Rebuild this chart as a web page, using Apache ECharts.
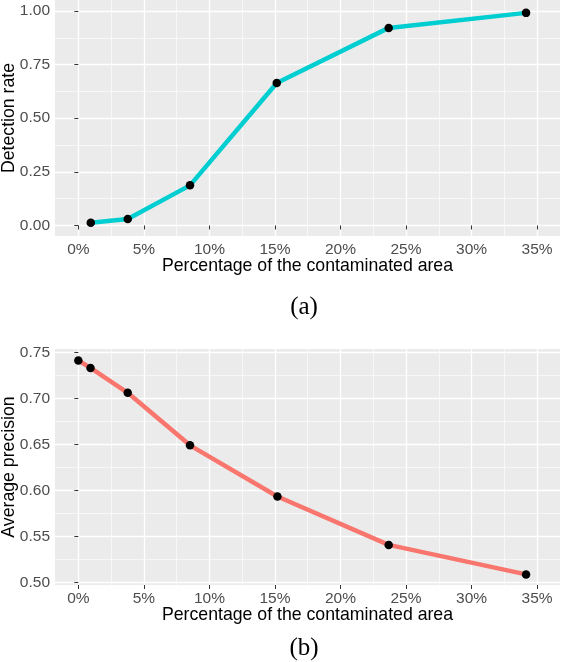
<!DOCTYPE html>
<html><head><meta charset="utf-8">
<script src="https://cdn.jsdelivr.net/npm/echarts@6/dist/echarts.min.js"></script>
<style>html,body{margin:0;padding:0;background:#fff}#c{width:562px;height:662px}</style>
</head><body><div id="c"></div>
<script>
// ---- data ----
const contamA = [0.95, 3.77, 8.52, 15.14, 23.68, 34.16];
const detectionRate = [0.013, 0.030, 0.187, 0.664, 0.921, 0.991];
const contamB = [0, 0.93, 3.77, 8.52, 15.19, 23.68, 34.16];
const avgPrecision = [0.741, 0.733, 0.706, 0.649, 0.5935, 0.541, 0.509];
const xTicks = [0, 5, 10, 15, 20, 25, 30, 35];
const xMinor = [2.5, 7.5, 12.5, 17.5, 22.5, 27.5, 32.5];
const yTicksA = [0, 0.25, 0.5, 0.75, 1];
const yMinorA = [0.125, 0.375, 0.625, 0.875];
const yTicksB = [0.5, 0.55, 0.6, 0.65, 0.7, 0.75];
const yMinorB = [0.525, 0.575, 0.625, 0.675, 0.725];
const xTitle = 'Percentage of the contaminated area';
const yTitleA = 'Detection rate';
const yTitleB = 'Average precision';

const FONT = '"Liberation Sans", Arial, sans-serif';
const tickLabel = { color: '#4D4D4D', fontSize: 15.5, fontFamily: FONT };
const titleStyle = { color: '#000', fontSize: 17.7, fontFamily: FONT };
const X_MIN = -1.78, X_MAX = 36.75;

function majorX(g) {
  return {
    type: 'value', gridIndex: g, min: X_MIN, max: X_MAX, position: 'bottom',
    axisLine: { show: false },
    axisTick: { show: true, length: 4, customValues: xTicks, lineStyle: { color: '#333', width: 1 } },
    axisLabel: Object.assign({ customValues: xTicks, margin: 6, formatter: v => Math.round(v) + '%' }, tickLabel),
    splitLine: { show: true, lineStyle: { color: '#fff', width: 1.3 } },
    name: xTitle, nameLocation: 'middle', nameGap: 21, nameMoveOverlap: false, nameTextStyle: titleStyle
  };
}
function minorX(g) {
  return {
    type: 'value', gridIndex: g, min: X_MIN, max: X_MAX, position: 'top',
    axisLine: { show: false },
    axisTick: { show: false, customValues: xMinor },
    axisLabel: { show: false },
    splitLine: { show: true, lineStyle: { color: '#fff', width: 0.6 } }
  };
}
function majorY(g, min, max, ticks, name) {
  return {
    type: 'value', gridIndex: g, min: min, max: max, position: 'left',
    axisLine: { show: false },
    axisTick: { show: true, length: 4, customValues: ticks, lineStyle: { color: '#333', width: 1 } },
    axisLabel: Object.assign({ customValues: ticks, margin: 5, formatter: v => v.toFixed(2) }, tickLabel),
    splitLine: { show: true, lineStyle: { color: '#fff', width: 1.3 } },
    name: name, nameLocation: 'middle', nameGap: 37, nameMoveOverlap: false, nameTextStyle: titleStyle
  };
}
function minorY(g, min, max, ticks) {
  return {
    type: 'value', gridIndex: g, min: min, max: max, position: 'right',
    axisLine: { show: false },
    axisTick: { show: false, customValues: ticks },
    axisLabel: { show: false },
    splitLine: { show: true, lineStyle: { color: '#fff', width: 0.6 } }
  };
}

const chart = echarts.init(document.getElementById('c'), null, { renderer: 'canvas' });
chart.setOption({
  animation: false,
  backgroundColor: '#fff',
  grid: [
    { left: 55, right: 2, top: 0, height: 236, show: true, backgroundColor: '#EBEBEB', borderWidth: 0, containLabel: false, outerBoundsMode: 'none' },
    { left: 55, right: 2, top: 349, height: 236, show: true, backgroundColor: '#EBEBEB', borderWidth: 0, containLabel: false, outerBoundsMode: 'none' }
  ],
  xAxis: [majorX(0), minorX(0), majorX(1), minorX(1)],
  yAxis: [
    majorY(0, -0.049, 1.051, yTicksA, yTitleA), minorY(0, -0.049, 1.051, yMinorA),
    majorY(1, 0.4975, 0.7535, yTicksB, yTitleB), minorY(1, 0.4975, 0.7535, yMinorB)
  ],
  series: [
    {
      type: 'line', xAxisIndex: 0, yAxisIndex: 0,
      data: contamA.map((x, i) => [x, detectionRate[i]]),
      symbol: 'circle', symbolSize: 8.5,
      itemStyle: { color: '#000', borderWidth: 0 },
      lineStyle: { color: '#00CED1', width: 4.5 },
      emphasis: { disabled: true }, z: 5
    },
    {
      type: 'line', xAxisIndex: 2, yAxisIndex: 2,
      data: contamB.map((x, i) => [x, avgPrecision[i]]),
      symbol: 'circle', symbolSize: 8.5,
      itemStyle: { color: '#000', borderWidth: 0 },
      lineStyle: { color: '#F8766D', width: 4.5 },
      emphasis: { disabled: true }, z: 5
    }
  ],
  graphic: [
    { type: 'text', x: 304, y: 307, style: { text: '(a)', align: 'center', verticalAlign: 'middle', fontSize: 25, fontFamily: '"Liberation Serif", serif', fill: '#000' } },
    { type: 'text', x: 304, y: 648, style: { text: '(b)', align: 'center', verticalAlign: 'middle', fontSize: 25, fontFamily: '"Liberation Serif", serif', fill: '#000' } }
  ]
});
</script></body></html>
